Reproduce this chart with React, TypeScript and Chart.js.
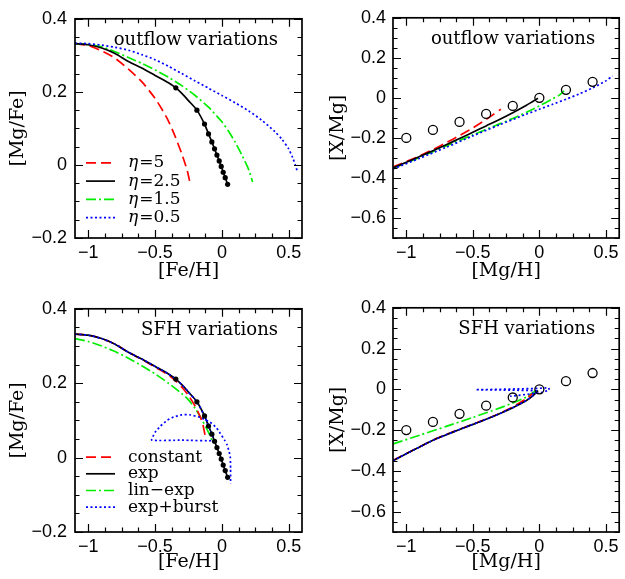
import React, { useEffect, useRef } from "react";
import { Chart, registerables } from "chart.js";
Chart.register(...registerables);

// ---------------- data ----------------
// Panel A: outflow variations, [Mg/Fe] vs [Fe/H]
const feH_eta5 = [-1.1, -1.0, -0.9, -0.8, -0.7, -0.6, -0.5, -0.45, -0.4, -0.35, -0.3, -0.26, -0.237];
const mgFe_eta5 = [0.332, 0.327, 0.312, 0.292, 0.262, 0.228, 0.182, 0.153, 0.12, 0.078, 0.03, -0.015, -0.052];

const feH_eta25 = [-1.1, -1.0, -0.9, -0.8, -0.7, -0.6, -0.5, -0.4, -0.345, -0.3, -0.25, -0.187, -0.13, -0.1, -0.075, -0.055, -0.037, -0.02, -0.005, 0.01, 0.025, 0.043];
const mgFe_eta25 = [0.332, 0.329, 0.32, 0.305, 0.283, 0.265, 0.245, 0.225, 0.211, 0.196, 0.176, 0.15, 0.112, 0.085, 0.063, 0.044, 0.027, 0.011, -0.004, -0.02, -0.035, -0.053];

const dotsFeH = [-0.345, -0.187, -0.13, -0.1, -0.075, -0.055, -0.037, -0.02, -0.005, 0.01, 0.025, 0.043];
const dotsMgFe = [0.211, 0.15, 0.112, 0.085, 0.063, 0.044, 0.027, 0.011, -0.004, -0.02, -0.035, -0.053];

const feH_eta15 = [-1.1, -1.0, -0.9, -0.8, -0.7, -0.6, -0.5, -0.4, -0.3, -0.2, -0.1, 0.0, 0.05, 0.1, 0.15, 0.2, 0.23];
const mgFe_eta15 = [0.332, 0.33, 0.323, 0.31, 0.294, 0.278, 0.26, 0.24, 0.217, 0.19, 0.158, 0.118, 0.092, 0.062, 0.027, -0.012, -0.047];

const feH_eta05 = [-1.1, -1.0, -0.9, -0.8, -0.7, -0.6, -0.5, -0.4, -0.3, -0.2, -0.1, 0.0, 0.1, 0.2, 0.3, 0.4, 0.45, 0.5, 0.53, 0.55, 0.565];
const mgFe_eta05 = [0.333, 0.332, 0.328, 0.322, 0.314, 0.302, 0.288, 0.27, 0.25, 0.23, 0.21, 0.19, 0.17, 0.148, 0.122, 0.09, 0.07, 0.044, 0.02, 0.0, -0.018];

// Panel B: outflow variations, [X/Mg] vs [Mg/H]
const mgH_eta5 = [-1.1, -1.0, -0.9, -0.8, -0.7, -0.6, -0.5, -0.4, -0.35, -0.29];
const xMg_eta5 = [-0.345, -0.318, -0.29, -0.258, -0.224, -0.188, -0.15, -0.108, -0.085, -0.057];

const mgH_eta25 = [-1.1, -1.0, -0.9, -0.8, -0.7, -0.6, -0.5, -0.4, -0.3, -0.2, -0.1, -0.05, -0.01];
const xMg_eta25 = [-0.35, -0.322, -0.293, -0.264, -0.234, -0.203, -0.172, -0.14, -0.108, -0.074, -0.038, -0.018, -0.002];

const mgH_eta15 = [-1.1, -0.9, -0.7, -0.5, -0.3, -0.2, -0.1, 0.0, 0.1, 0.15, 0.185];
const xMg_eta15 = [-0.352, -0.297, -0.24, -0.185, -0.13, -0.103, -0.073, -0.04, -0.005, 0.014, 0.035];

const mgH_eta05 = [-1.1, -0.9, -0.7, -0.5, -0.3, -0.1, 0.0, 0.1, 0.2, 0.3, 0.4, 0.5, 0.55];
const xMg_eta05 = [-0.355, -0.302, -0.247, -0.19, -0.135, -0.082, -0.057, -0.032, -0.007, 0.02, 0.05, 0.085, 0.11];

// observed pattern (open circles)
const obsMgH = [-1.0, -0.8, -0.6, -0.4, -0.2, 0.0, 0.2, 0.4];
const obsXMg = [-0.2, -0.16, -0.12, -0.08, -0.04, 0.0, 0.04, 0.08];

// Panel C: SFH variations, [Mg/Fe] vs [Fe/H]
const feH_const = [-1.1, -1.0, -0.9, -0.8, -0.7, -0.6, -0.5, -0.4, -0.35, -0.3, -0.25, -0.2, -0.16, -0.14, -0.125];
const mgFe_const = [0.332, 0.329, 0.32, 0.305, 0.283, 0.264, 0.243, 0.222, 0.207, 0.189, 0.167, 0.138, 0.108, 0.085, 0.058];

const feH_exp = feH_eta25;
const mgFe_exp = mgFe_eta25;

const feH_linexp = [-1.1, -1.0, -0.9, -0.8, -0.7, -0.6, -0.5, -0.4, -0.3, -0.25, -0.2, -0.15, -0.1, -0.075];
const mgFe_linexp = [0.32, 0.312, 0.3, 0.285, 0.267, 0.247, 0.225, 0.2, 0.172, 0.155, 0.132, 0.102, 0.068, 0.047];

const feH_burst = [-1.1, -1.0, -0.9, -0.8, -0.7, -0.6, -0.5, -0.4, -0.345, -0.3, -0.25, -0.187, -0.13, -0.1, -0.075, -0.055, -0.3, -0.525, -0.5, -0.462, -0.41, -0.362, -0.3, -0.24, -0.163, -0.088, -0.04, -0.012, 0.02, 0.038, 0.055, 0.063, 0.065, 0.065];
const mgFe_burst = [0.332, 0.329, 0.32, 0.305, 0.283, 0.265, 0.245, 0.225, 0.211, 0.196, 0.176, 0.15, 0.112, 0.085, 0.063, 0.046, 0.047, 0.047, 0.068, 0.084, 0.1, 0.109, 0.115, 0.115, 0.108, 0.095, 0.08, 0.065, 0.047, 0.035, 0.015, 0.0, -0.03, -0.07];

// Panel D: SFH variations, [X/Mg] vs [Mg/H]
const mgH_const = [-1.1, -1.0, -0.9, -0.8, -0.7, -0.6, -0.5, -0.4, -0.3, -0.2, -0.1, -0.05];
const xMg_const = [-0.349, -0.315, -0.282, -0.249, -0.222, -0.196, -0.171, -0.146, -0.118, -0.086, -0.047, -0.02];

const mgH_exp = [-1.1, -1.0, -0.9, -0.8, -0.7, -0.6, -0.5, -0.4, -0.3, -0.2, -0.1, -0.05, -0.01];
const xMg_exp = [-0.35, -0.316, -0.283, -0.25, -0.223, -0.197, -0.172, -0.147, -0.12, -0.09, -0.056, -0.032, -0.006];

const mgH_linexp = [-1.1, -0.9, -0.7, -0.5, -0.3, -0.2, -0.1, -0.03];
const xMg_linexp = [-0.268, -0.225, -0.182, -0.138, -0.092, -0.067, -0.038, -0.008];

const mgH_burst = [-1.1, -1.0, -0.9, -0.8, -0.7, -0.6, -0.5, -0.4, -0.3, -0.2, -0.1, -0.05, -0.013, -0.2, -0.48, -0.3, -0.1, 0.0, 0.07, 0.075, 0.02, -0.1, -0.22];
const xMg_burst = [-0.35, -0.316, -0.283, -0.25, -0.223, -0.197, -0.172, -0.147, -0.12, -0.09, -0.056, -0.032, -0.007, -0.004, -0.002, 0.0, 0.003, 0.005, 0.008, -0.003, -0.015, -0.025, -0.034];

// axis ticks
const xTicks = [-1, -0.5, 0, 0.5];
const yTicksMgFe = [-0.2, 0, 0.2, 0.4];
const yTicksXMg = [-0.6, -0.4, -0.2, 0, 0.2, 0.4];

// ---------------- styles ----------------
const RED = { color: "#ff0000", dash: [10, 5] };
const BLACK = { color: "#000000", dash: [] as number[] };
const GREEN = { color: "#00ee00", dash: [10, 3, 2, 3] };
const BLUE = { color: "#0000ff", dash: [2, 2.5] };

const xy = (xs: number[], ys: number[]) => xs.map((x, i) => ({ x, y: ys[i] }));

const lineDs = (xs: number[], ys: number[], st: { color: string; dash: number[] }, tension = 0.25) => ({
  data: xy(xs, ys),
  showLine: true,
  borderColor: st.color,
  borderDash: st.dash,
  borderWidth: 1.7,
  pointRadius: 0,
  pointHoverRadius: 0,
  fill: false,
  tension,
});

const dotsDs = (xs: number[], ys: number[]) => ({
  data: xy(xs, ys),
  showLine: false,
  pointRadius: 2.6,
  pointHoverRadius: 2.6,
  backgroundColor: "#000",
  borderColor: "#000",
  borderWidth: 0,
});

const circlesDs = (xs: number[], ys: number[]) => ({
  data: xy(xs, ys),
  showLine: false,
  pointStyle: "circle",
  pointRadius: 4.5,
  pointHoverRadius: 4.5,
  backgroundColor: "rgba(0,0,0,0)",
  borderColor: "#000",
  borderWidth: 1.3,
});

const fmt = (value: any) => {
  const v = Number(value);
  if (Math.abs(v) < 1e-9) return "0";
  return (v < 0 ? "\u2212" : "") + String(Math.abs(v));
};

type LegendItem = { eta?: boolean; text: string; st: { color: string; dash: number[] } };

type PanelProps = {
  left: number;
  top: number;
  width: number;
  height: number;
  padTop: number;
  padRight: number;
  yAxisWidth: number;
  xAxisHeight: number;
  xTitle: string;
  yTitle: string;
  xTitlePad: number;
  yTitlePad: number;
  yMin: number;
  yMax: number;
  yTicks: number[];
  datasets: any[];
  title: string;
  legend: LegendItem[];
  legendTop: number;
  legendStep: number;
};

function Panel(p: PanelProps) {
  const ref = useRef<HTMLCanvasElement | null>(null);
  useEffect(() => {
    if (!ref.current) return;
    const decor = {
      id: "decor",
      afterDraw(chart: any) {
        const ctx = chart.ctx;
        const { left, right, top, bottom } = chart.chartArea;
        const xs = chart.scales.x;
        const ys = chart.scales.y;
        ctx.save();
        ctx.setLineDash([]);
        ctx.strokeStyle = "#000";
        ctx.lineWidth = 1.2;
        // x ticks (major 0.5, minor 0.125)
        const xMinor = 0.125, xMajor = 0.5;
        for (let k = Math.ceil(xs.min / xMinor); k <= Math.floor(xs.max / xMinor); k++) {
          const v = k * xMinor;
          const r = v / xMajor;
          const major = Math.abs(r - Math.round(r)) < 1e-6;
          const len = major ? 8 : 4.5;
          const px = Math.round(xs.getPixelForValue(v)) + 0.5;
          ctx.beginPath();
          ctx.moveTo(px, bottom);
          ctx.lineTo(px, bottom - len);
          ctx.moveTo(px, top);
          ctx.lineTo(px, top + len);
          ctx.stroke();
        }
        // y ticks (major 0.2, minor 0.05)
        const yMinor = 0.05, yMajor = 0.2;
        for (let k = Math.ceil(ys.min / yMinor - 1e-6); k <= Math.floor(ys.max / yMinor + 1e-6); k++) {
          const v = k * yMinor;
          const r = v / yMajor;
          const major = Math.abs(r - Math.round(r)) < 1e-6;
          const len = major ? 8 : 4.5;
          const py = Math.round(ys.getPixelForValue(v)) + 0.5;
          ctx.beginPath();
          ctx.moveTo(left, py);
          ctx.lineTo(left + len, py);
          ctx.moveTo(right, py);
          ctx.lineTo(right - len, py);
          ctx.stroke();
        }
        // frame
        ctx.lineWidth = 1.7;
        ctx.strokeRect(left, top, right - left, bottom - top);
        // panel title
        ctx.fillStyle = "#000";
        ctx.font = '18px "DejaVu Serif"';
        ctx.textAlign = "right";
        ctx.textBaseline = "middle";
        ctx.fillText(p.title, right - 24, top + 22);
        // legend
        ctx.textAlign = "left";
        p.legend.forEach((it, i) => {
          const y = top + p.legendTop + i * p.legendStep;
          ctx.strokeStyle = it.st.color;
          ctx.lineWidth = 1.7;
          ctx.setLineDash(it.st.dash);
          ctx.beginPath();
          ctx.moveTo(left + 11, y);
          ctx.lineTo(left + 40, y);
          ctx.stroke();
          ctx.setLineDash([]);
          let tx = left + 53;
          if (it.eta) {
            ctx.font = 'italic 17px "DejaVu Serif"';
            ctx.fillText("\u03B7", tx, y);
            tx += ctx.measureText("\u03B7").width + 1;
          }
          ctx.font = '17px "DejaVu Serif"';
          ctx.fillText(it.text, tx, y);
        });
        ctx.restore();
      },
    };
    const tickFont = { family: '"Liberation Sans", Arial, sans-serif', size: 18 };
    const titleFont = { family: '"DejaVu Serif", serif', size: 19 };
    const chart = new Chart(ref.current, {
      type: "scatter",
      data: { datasets: p.datasets },
      options: {
        responsive: false,
        animation: false,
        events: [],
        layout: { padding: { top: p.padTop, right: p.padRight, left: 0, bottom: 0 } },
        plugins: { legend: { display: false }, tooltip: { enabled: false }, title: { display: false } },
        scales: {
          x: {
            type: "linear",
            min: -1.1,
            max: 0.6,
            bounds: "data",
            grid: { display: false, drawTicks: false },
            border: { display: false },
            ticks: { font: tickFont, color: "#000", padding: 4.5, autoSkip: false, maxRotation: 0, callback: fmt },
            afterBuildTicks: (s: any) => {
              s.ticks = xTicks.map((v) => ({ value: v }));
            },
            afterFit: (s: any) => {
              s.height = p.xAxisHeight;
            },
            title: { display: true, text: p.xTitle, font: titleFont, color: "#000", padding: { top: 0, bottom: p.xTitlePad } },
          },
          y: {
            type: "linear",
            min: p.yMin,
            max: p.yMax,
            bounds: "data",
            grid: { display: false, drawTicks: false },
            border: { display: false },
            ticks: { font: tickFont, color: "#000", padding: p.yAxisWidth === 75 ? 8 : 7, autoSkip: false, callback: fmt },
            afterBuildTicks: (s: any) => {
              s.ticks = p.yTicks.map((v) => ({ value: v }));
            },
            afterFit: (s: any) => {
              s.width = p.yAxisWidth;
            },
            title: { display: true, text: p.yTitle, font: titleFont, color: "#000", padding: { top: p.yTitlePad, bottom: 0 } },
          },
        },
      } as any,
      plugins: [decor],
    });
    return () => chart.destroy();
  }, []);
  return (
    <canvas
      ref={ref}
      width={p.width}
      height={p.height}
      style={{ position: "absolute", left: p.left, top: p.top, width: p.width, height: p.height }}
    />
  );
}

export default function App() {
  const outflowLegend: LegendItem[] = [
    { eta: true, text: "=5", st: RED },
    { eta: true, text: "=2.5", st: BLACK },
    { eta: true, text: "=1.5", st: GREEN },
    { eta: true, text: "=0.5", st: BLUE },
  ];
  const sfhLegend: LegendItem[] = [
    { text: "constant", st: RED },
    { text: "exp", st: BLACK },
    { text: "lin\u2212exp", st: GREEN },
    { text: "exp+burst", st: BLUE },
  ];

  const dsA = [
    dotsDs(dotsFeH, dotsMgFe),
    lineDs(feH_eta05, mgFe_eta05, BLUE),
    lineDs(feH_eta25, mgFe_eta25, BLACK),
    lineDs(feH_eta15, mgFe_eta15, GREEN),
    lineDs(feH_eta5, mgFe_eta5, RED),
  ];
  const dsB = [
    circlesDs(obsMgH, obsXMg),
    lineDs(mgH_eta05, xMg_eta05, BLUE),
    lineDs(mgH_eta25, xMg_eta25, BLACK),
    lineDs(mgH_eta15, xMg_eta15, GREEN),
    lineDs(mgH_eta5, xMg_eta5, RED),
  ];
  const dsC = [
    dotsDs(dotsFeH, dotsMgFe),
    lineDs(feH_burst, mgFe_burst, BLUE, 0.15),
    lineDs(feH_exp, mgFe_exp, BLACK),
    lineDs(feH_const, mgFe_const, RED),
    lineDs(feH_linexp, mgFe_linexp, GREEN),
  ];
  const dsD = [
    circlesDs(obsMgH, obsXMg),
    lineDs(mgH_burst, xMg_burst, BLUE, 0),
    lineDs(mgH_exp, xMg_exp, BLACK),
    lineDs(mgH_const, xMg_const, RED),
    lineDs(mgH_linexp, xMg_linexp, GREEN),
  ];

  return (
    <div style={{ position: "absolute", left: 0, top: 0, width: 625, height: 579, background: "#fff" }}>
      <Panel
        left={0} top={0} width={312} height={290}
        padTop={11} padRight={10} yAxisWidth={75} xAxisHeight={52}
        xTitle="[Fe/H]" yTitle="[Mg/Fe]" xTitlePad={7.6} yTitlePad={6.6}
        yMin={-0.2} yMax={0.4} yTicks={yTicksMgFe}
        datasets={dsA} title="outflow variations" legend={outflowLegend} legendTop={144} legendStep={18.3}
      />
      <Panel
        left={312} top={0} width={313} height={290}
        padTop={11} padRight={4} yAxisWidth={81} xAxisHeight={52}
        xTitle="[Mg/H]" yTitle="[X/Mg]" xTitlePad={7.6} yTitlePad={14.3}
        yMin={-0.7} yMax={0.4} yTicks={yTicksXMg}
        datasets={dsB} title="outflow variations" legend={[]} legendTop={0} legendStep={0}
      />
      <Panel
        left={0} top={290} width={312} height={289}
        padTop={15} padRight={10} yAxisWidth={75} xAxisHeight={47}
        xTitle="[Fe/H]" yTitle="[Mg/Fe]" xTitlePad={5.6} yTitlePad={6.6}
        yMin={-0.2} yMax={0.4} yTicks={yTicksMgFe}
        datasets={dsC} title="SFH variations" legend={sfhLegend} legendTop={148.3} legendStep={16.7}
      />
      <Panel
        left={312} top={290} width={313} height={289}
        padTop={15} padRight={4} yAxisWidth={81} xAxisHeight={47}
        xTitle="[Mg/H]" yTitle="[X/Mg]" xTitlePad={5.6} yTitlePad={14.3}
        yMin={-0.7} yMax={0.4} yTicks={yTicksXMg}
        datasets={dsD} title="SFH variations" legend={[]} legendTop={0} legendStep={0}
      />
    </div>
  );
}
